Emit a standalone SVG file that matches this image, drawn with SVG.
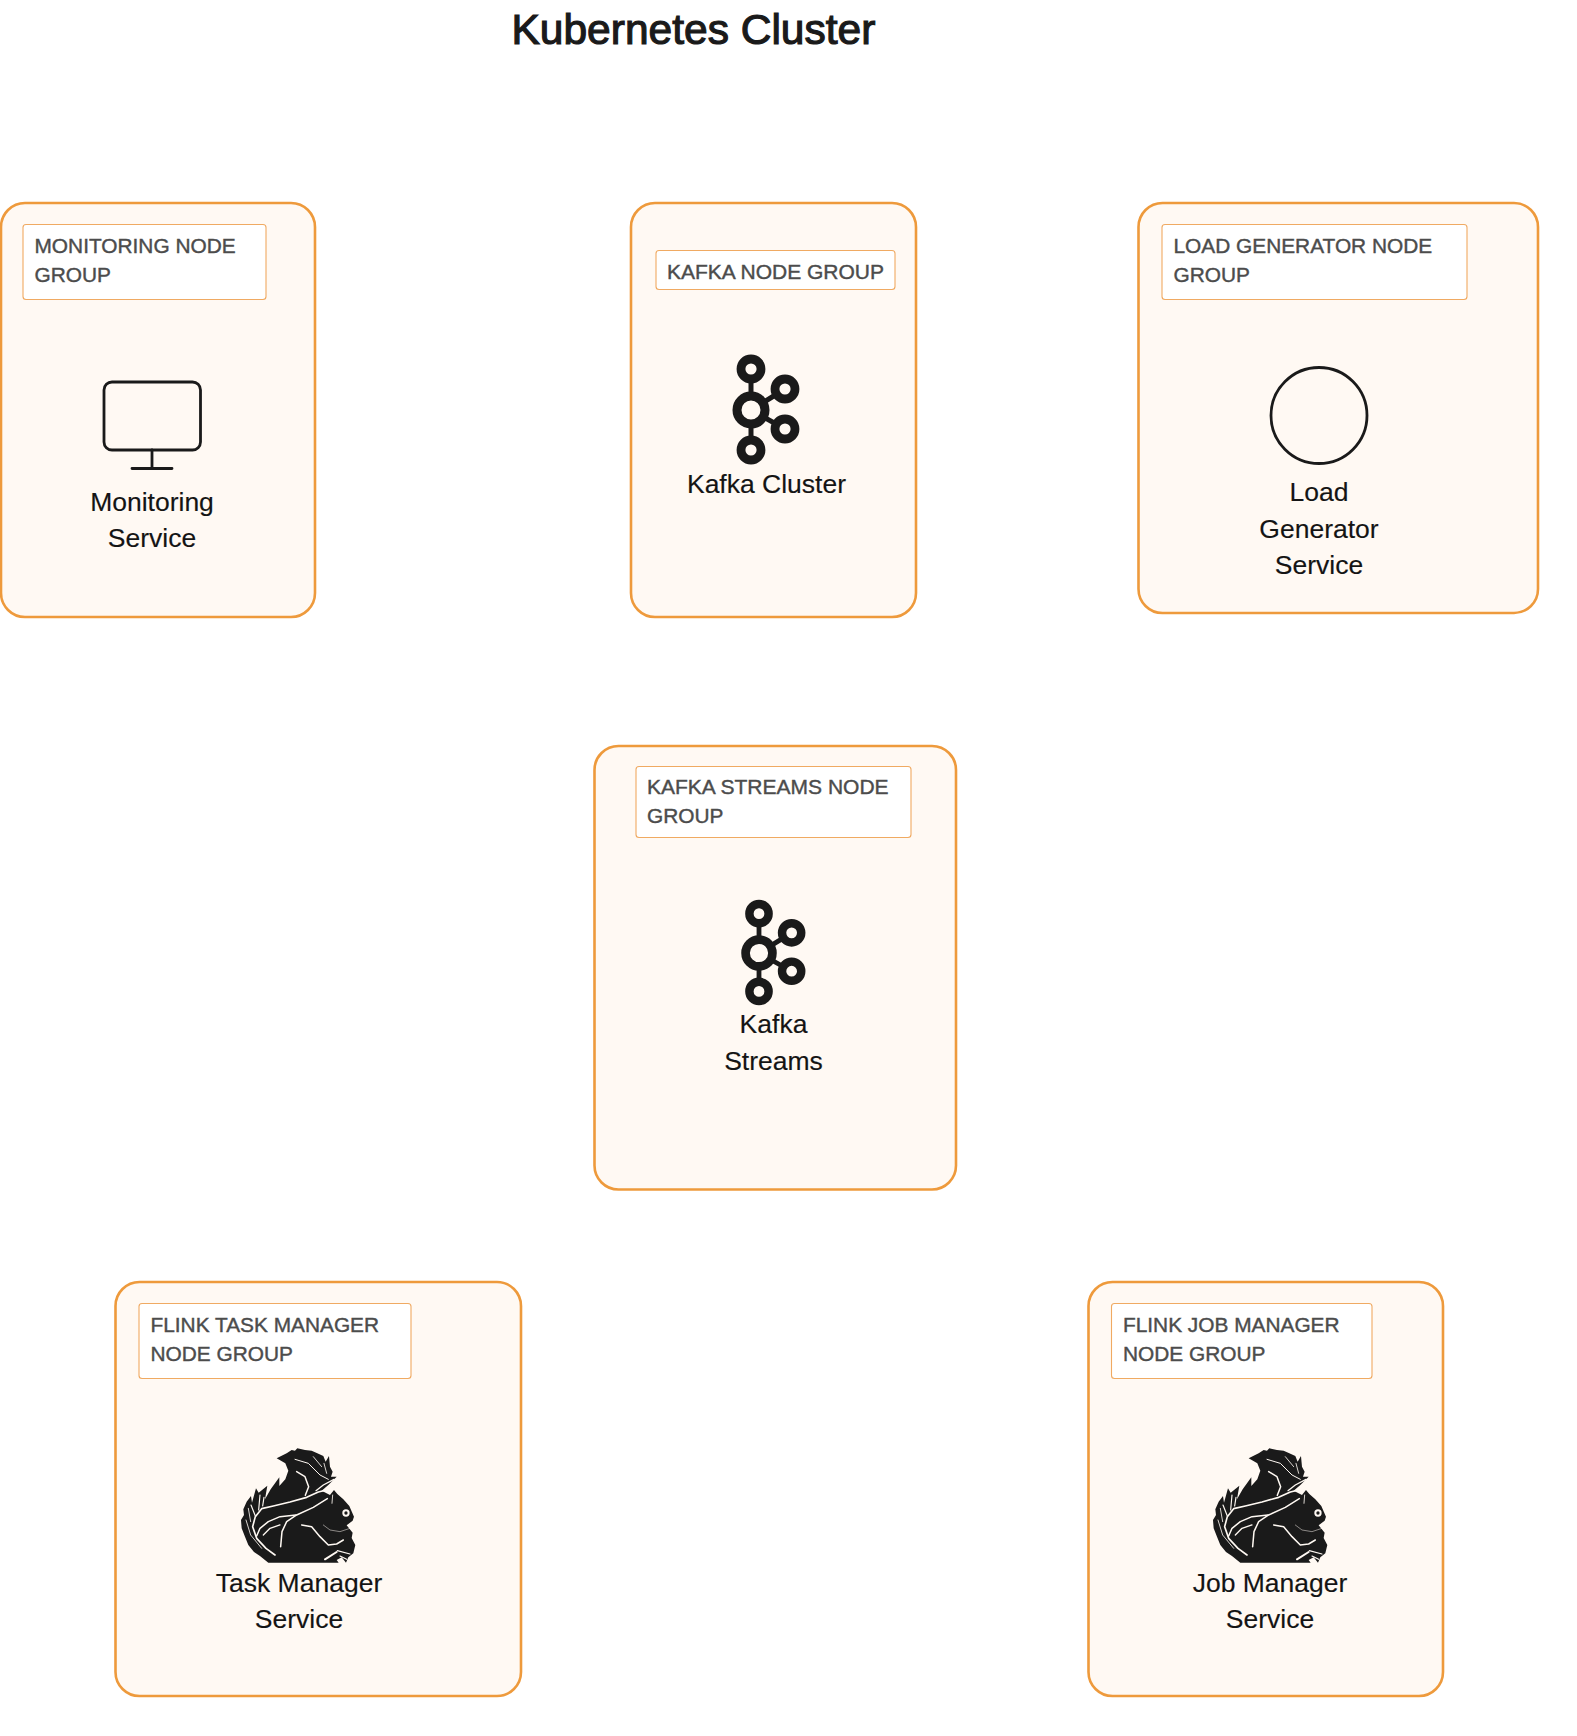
<svg xmlns="http://www.w3.org/2000/svg" xmlns:xlink="http://www.w3.org/1999/xlink" width="1577" height="1736" viewBox="0 0 1577 1736">
<style>
text{font-family:"Liberation Sans",Arial,sans-serif}
.box{fill:#fff9f3;stroke:#ee9a3c;stroke-width:2.6}
.lab{fill:#fff;stroke:#f0aa62;stroke-width:1.1}
.lt{font-size:20.85px;fill:#4c4c4c;stroke:#4c4c4c;stroke-width:.4}
.nt{font-size:26.5px;fill:#141414;text-anchor:middle;stroke:#141414;stroke-width:.15}
.title{font-size:42.5px;fill:#1a1a1a;stroke:#1a1a1a;stroke-width:1.2}
.ic{fill:none;stroke:#1a1a1a;stroke-linecap:round;stroke-linejoin:round}
.fur{fill:none;stroke:#fff9f3;stroke-linecap:round;stroke-linejoin:round}
</style>
<defs>
<g id="kafka-icon" class="ic">
<path d="M0 -41V40M0 0L34 -21M0 0L34 19" stroke-width="5"/>
<circle cx="0" cy="0" r="14" fill="#fff9f3" stroke-width="9"/>
<circle cx="0" cy="-41" r="10" fill="#fff9f3" stroke-width="8.800"/>
<circle cx="0" cy="40" r="10" fill="#fff9f3" stroke-width="8.800"/>
<circle cx="34" cy="-21" r="10" fill="#fff9f3" stroke-width="8.800"/>
<circle cx="34" cy="19" r="10" fill="#fff9f3" stroke-width="8.800"/>
</g>
<g id="squirrel">
<path fill="#1a1a1a" d="M265 428L240 408L222 396L205 375L195 350L185 325L183 300L192 285L190 268L200 245L213 228L216 248L228 205L236 218L262 197L255 238L272 208L298 172L298 198L316 178L325 152L316 130L290 115L320 100L335 90L345 92L352 85L375 90L395 92L412 100L430 108L437 125L447 108L450 140L458 155L453 170L470 170L445 195L425 212L450 225L462 210L472 222L490 238L508 258L522 290L518 302L500 316L518 338L515 354L526 375L520 400L505 412L498 428L485 412L470 420L476 428Z"/>
<g class="fur">
<path stroke-width="5" d="M470 203L415 216L380 232L330 246L280 258L245 266L226 290L218 320L230 355L258 385L285 405"/>
<path stroke-width="4.500" d="M442 236L400 262L350 285L320 305L306 335L302 380"/>
<path stroke-width="4.500" d="M348 285L300 290L265 305L240 325L230 348"/>
<path stroke-width="4" d="M300 315L270 325L250 345"/>
<path stroke-width="4.500" d="M350 155L375 170L386 200L376 226"/>
<path stroke-width="3" d="M345 118L385 130L420 165L445 178"/>
<path stroke-width="4" d="M462 178L430 195L408 212"/>
<path stroke-width="2.500" d="M400 110L425 140M432 130L440 160"/>
<path stroke-width="3.500" d="M213 255L226 288M240 225L236 270M252 232L248 258"/>
<path stroke-width="2.500" d="M198 300L212 345L245 385M205 265L212 305"/>
<path stroke-width="4.500" d="M365 315L395 320L420 350L445 375L470 372L490 360"/>
<path stroke-width="1.500" d="M430 315L450 330L480 335L510 325"/>
<path stroke-width="2.500" d="M456 250L458 225"/>
<path stroke-width="3.500" d="M472 392L510 402M480 408L500 418"/>
<path stroke-width="6" d="M435 418L470 396"/>
</g>
<circle cx="498" cy="279" r="11" fill="#fff9f3"/>
<circle cx="498" cy="279" r="5" fill="#1a1a1a"/>
</g>
</defs>
<rect width="1577" height="1736" fill="#fff"/>
<text class="title" x="511.500" y="44">Kubernetes Cluster</text>

<g id="monitoring">
<rect class="box" x="1" y="203" width="314" height="414" rx="24"/>
<rect class="lab" x="23" y="224.500" width="243" height="75" rx="3"/>
<text class="lt" x="34.500" y="253">MONITORING NODE</text>
<text class="lt" x="34.500" y="282">GROUP</text>
<g class="ic" stroke-width="2.800">
<rect x="104" y="382" width="96.500" height="68" rx="8"/>
<path d="M152 450V468.500M132 468.500H172"/>
</g>
<text class="nt" x="152" y="511">Monitoring</text>
<text class="nt" x="152" y="547">Service</text>
</g>

<g id="kafka">
<rect class="box" x="631" y="203" width="285" height="414" rx="24"/>
<rect class="lab" x="656" y="250.500" width="239" height="39" rx="3"/>
<text class="lt" x="667" y="279" style="font-size:21px">KAFKA NODE GROUP</text>
<use xlink:href="#kafka-icon" href="#kafka-icon" x="751" y="410"/>
<text class="nt" x="766.500" y="493">Kafka Cluster</text>
</g>

<g id="load-generator">
<rect class="box" x="1138.500" y="203" width="399.500" height="410" rx="24"/>
<rect class="lab" x="1162" y="224.500" width="305" height="75" rx="3"/>
<text class="lt" x="1173.500" y="253">LOAD GENERATOR NODE</text>
<text class="lt" x="1173.500" y="282">GROUP</text>
<circle class="ic" stroke-width="2.800" cx="1319" cy="415.500" r="48"/>
<text class="nt" x="1319" y="501">Load</text>
<text class="nt" x="1319" y="538">Generator</text>
<text class="nt" x="1319" y="574">Service</text>
</g>

<g id="kafka-streams">
<rect class="box" x="594.500" y="746" width="361.500" height="443.500" rx="24"/>
<rect class="lab" x="636" y="766.500" width="275" height="71" rx="3"/>
<text class="lt" x="647" y="794" style="font-size:21px">KAFKA STREAMS NODE</text>
<text class="lt" x="647" y="823">GROUP</text>
<use xlink:href="#kafka-icon" href="#kafka-icon" transform="translate(759 953) scale(.96)"/>
<text class="nt" x="773.500" y="1033">Kafka</text>
<text class="nt" x="773.500" y="1070">Streams</text>
</g>

<g id="flink-task-manager">
<rect class="box" x="115.500" y="1282" width="405.500" height="414" rx="24"/>
<rect class="lab" x="139" y="1303.500" width="272" height="75" rx="3"/>
<text class="lt" x="150.500" y="1332">FLINK TASK MANAGER</text>
<text class="lt" x="150.500" y="1361">NODE GROUP</text>
<use xlink:href="#squirrel" href="#squirrel" transform="translate(180 1420) scale(.3333)"/>
<text class="nt" x="299" y="1592">Task Manager</text>
<text class="nt" x="299" y="1628">Service</text>
</g>

<g id="flink-job-manager">
<rect class="box" x="1088.500" y="1282" width="354.500" height="414" rx="24"/>
<rect class="lab" x="1111.500" y="1303.500" width="260.500" height="75" rx="3"/>
<text class="lt" x="1123" y="1332">FLINK JOB MANAGER</text>
<text class="lt" x="1123" y="1361">NODE GROUP</text>
<use xlink:href="#squirrel" href="#squirrel" transform="translate(1152 1420) scale(.3333)"/>
<text class="nt" x="1270" y="1592">Job Manager</text>
<text class="nt" x="1270" y="1628">Service</text>
</g>
</svg>
